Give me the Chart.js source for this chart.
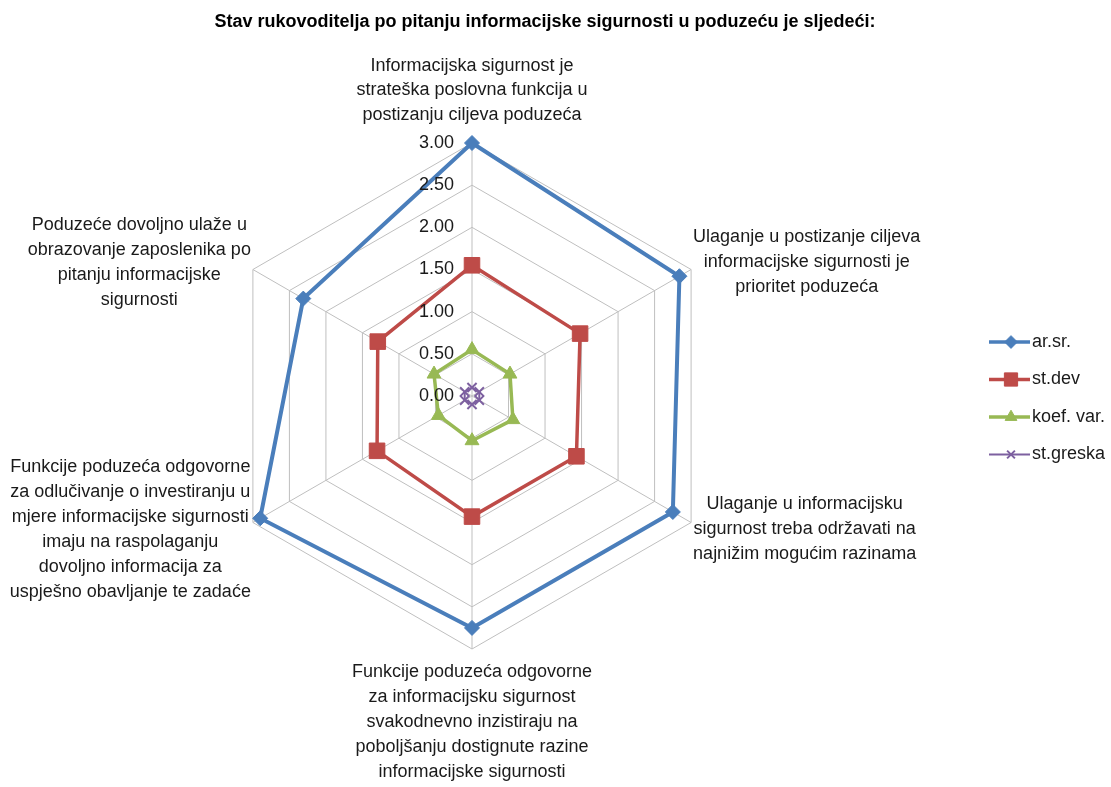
<!DOCTYPE html>
<html>
<head>
<meta charset="utf-8">
<script src="https://cdn.jsdelivr.net/npm/chart.js@4"></script>
<style>
  body { margin: 0; background: #fff; }
  #wrap { width: 1111px; height: 787px; position: relative; }
</style>
</head>
<body>
<div id="wrap"><canvas id="radarChart"></canvas></div>
<script>
const chartTitle = 'Stav rukovoditelja po pitanju informacijske sigurnosti u poduzeću je sljedeći:';
const categories = [
  ['Informacijska sigurnost je', 'strateška poslovna funkcija u', 'postizanju ciljeva poduzeća'],
  ['Ulaganje u postizanje ciljeva', 'informacijske sigurnosti je', 'prioritet poduzeća'],
  ['Ulaganje u informacijsku', 'sigurnost treba održavati na', 'najnižim mogućim razinama'],
  ['Funkcije poduzeća odgovorne', 'za informacijsku sigurnost', 'svakodnevno inzistiraju na', 'poboljšanju dostignute razine', 'informacijske sigurnosti'],
  ['Funkcije poduzeća odgovorne', 'za odlučivanje o investiranju u', 'mjere informacijske sigurnosti', 'imaju na raspolaganju', 'dovoljno informacija za', 'uspješno obavljanje te zadaće'],
  ['Poduzeće dovoljno ulaže u', 'obrazovanje zaposlenika po', 'pitanju informacijske', 'sigurnosti']
];
const seriesNames = ['ar.sr.', 'st.dev', 'koef. var.', 'st.greska'];
const arSr = [3.00, 2.84, 2.75, 2.75, 2.90, 2.31];
const stDev = [1.55, 1.48, 1.43, 1.43, 1.30, 1.29];
const koefVar = [0.55, 0.52, 0.56, 0.53, 0.46, 0.52];
const stGreska = [0.10, 0.10, 0.10, 0.10, 0.10, 0.10];
const tickLabels = ['0.00', '0.50', '1.00', '1.50', '2.00', '2.50', '3.00'];

const FONT = '"Liberation Sans", Arial, sans-serif';

function series(label, data, color, style, radius, width) {
  return {
    label: label,
    data: data,
    borderColor: color,
    backgroundColor: color,
    pointBackgroundColor: color,
    pointBorderColor: color,
    pointStyle: style,
    pointRadius: radius,
    pointHoverRadius: radius,
    pointBorderWidth: style === 'crossRot' ? 2 : 1,
    borderWidth: width,
    fill: false,
    tension: 0
  };
}

// title, tick labels, category labels and legend (Excel look)
const excelText = {
  id: 'excelText',
  afterDraw(chart) {
    const ctx = chart.ctx;
    const r = chart.scales.r;
    ctx.save();
    ctx.fillStyle = '#000';
    ctx.textBaseline = 'middle';

    ctx.font = 'bold 18px ' + FONT;
    ctx.textAlign = 'center';
    ctx.fillText(chartTitle, 545, 22, 662);

    ctx.font = '18px ' + FONT;
    ctx.fillStyle = '#1a1a1a';
    ctx.textAlign = 'right';
    r.ticks.forEach((t, i) => {
      const y = r.yCenter - r.getDistanceFromCenterForValue(t.value);
      ctx.fillText(tickLabels[i], r.xCenter - 18, y);
    });

    ctx.textAlign = 'center';
    categories.forEach((lines, i) => {
      const p = r.getPointPosition(i, r.drawingArea);
      const n = lines.length;
      if (i === 0) {
        lines.forEach((s, k) => {
          ctx.fillText(s, p.x, p.y - 28 - (n - 1 - k) * 24.5);
        });
        return;
      }
      const lh = 25;
      const bw = Math.max(...lines.map(s => ctx.measureText(s).width));
      let cx, y0;
      if (i === 3) {
        cx = p.x;
        y0 = p.y + 23;
      } else {
        cx = p.x > r.xCenter ? p.x + 2 + bw / 2 : p.x - 2 - bw / 2;
        const mid = p.y > r.yCenter ? p.y + 7 : p.y - 7;
        y0 = mid - (n - 1) * lh / 2;
      }
      lines.forEach((s, k) => ctx.fillText(s, cx, y0 + k * lh));
    });

    // legend
    ctx.textAlign = 'left';
    chart.data.datasets.forEach((ds, i) => {
      const y = 342 + i * 37.5;
      ctx.strokeStyle = ds.borderColor;
      ctx.lineWidth = Math.min(ds.borderWidth, 3.5);
      ctx.beginPath();
      ctx.moveTo(989, y);
      ctx.lineTo(1030, y);
      ctx.stroke();
      ctx.fillStyle = ds.pointBackgroundColor;
      ctx.lineWidth = ds.pointBorderWidth;
      if (Chart.helpers && Chart.helpers.drawPoint) {
        Chart.helpers.drawPoint(ctx, {
          pointStyle: ds.pointStyle,
          radius: ds.pointRadius * 0.85,
          borderWidth: ds.pointBorderWidth,
          rotation: 0
        }, 1011, y);
      }
      ctx.fillStyle = '#1a1a1a';
      ctx.fillText(ds.label, 1032, y);
    });
    ctx.restore();
  }
};

const ctx = document.getElementById('radarChart').getContext('2d');
const chart = new Chart(ctx, {
  type: 'radar',
  data: {
    labels: categories,
    datasets: [
      series(seriesNames[0], arSr, '#4A7EBB', 'rectRot', 7.5, 4),
      series(seriesNames[1], stDev, '#BE4B48', 'rect', 11, 3.5),
      series(seriesNames[2], koefVar, '#98B954', 'triangle', 8, 3.5),
      series(seriesNames[3], stGreska, '#7D60A0', 'crossRot', 6.5, 2)
    ]
  },
  options: {
    responsive: true,
    maintainAspectRatio: false,
    animation: false,
    layout: { padding: { left: 219, top: 143, right: 385, bottom: 137 } },
    plugins: {
      legend: { display: false },
      title: { display: false },
      tooltip: { enabled: false }
    },
    scales: {
      r: {
        min: 0,
        max: 3,
        ticks: { stepSize: 0.5, display: false },
        pointLabels: { display: false },
        grid: { color: '#BFBFBF', lineWidth: 1 },
        angleLines: { color: '#BFBFBF', lineWidth: 1 }
      }
    }
  },
  plugins: [excelText]
});
</script>
</body>
</html>
